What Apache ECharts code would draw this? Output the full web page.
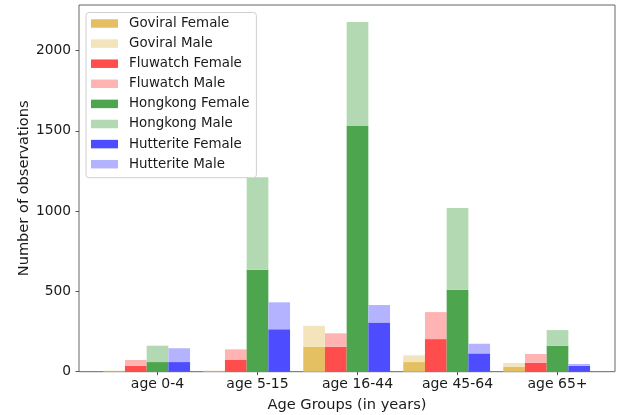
<!DOCTYPE html>
<html>
<head>
<meta charset="utf-8">
<script src="https://cdn.jsdelivr.net/npm/echarts@6/dist/echarts.min.js"></script>
<style>html,body{margin:0;padding:0;background:#fff;}#c{width:625px;height:415px;}</style>
</head>
<body>
<div id="c"></div>
<script>
const categories = ['age 0-4', 'age 5-15', 'age 16-44', 'age 45-64', 'age 65+'];
const yTicks = [0, 500, 1000, 1500, 2000];

const goviralFemale = [4, 4, 156, 60, 31];
const goviralMale = [3, 3, 130, 42, 23];
const fluwatchFemale = [37, 73, 156, 203, 56];
const fluwatchMale = [36, 66, 83, 168, 54];
const hongkongFemale = [60, 635, 1530, 510, 162];
const hongkongMale = [102, 576, 647, 509, 97];
const hutteriteFemale = [60, 264, 307, 114, 37];
const hutteriteMale = [86, 168, 108, 60, 11];

const FONT = 'DejaVu Sans';
const BW = 21.7;

function bar(name, stack, values, color) {
  return {
    name: name,
    type: 'bar',
    stack: stack,
    barWidth: BW,
    barGap: '0%',
    encode: { x: 1, y: 0 },
    data: values.map((v, i) => [v, i]),
    itemStyle: { color: color },
    emphasis: { disabled: true }
  };
}

const series = [
  bar('Goviral Female', 'goviral', goviralFemale, '#e5c063'),
  bar('Goviral Male', 'goviral', goviralMale, '#f4e4bc'),
  bar('Fluwatch Female', 'fluwatch', fluwatchFemale, '#ff4d4d'),
  bar('Fluwatch Male', 'fluwatch', fluwatchMale, '#ffb3b3'),
  bar('Hongkong Female', 'hongkong', hongkongFemale, '#4da64d'),
  bar('Hongkong Male', 'hongkong', hongkongMale, '#b3d9b3'),
  bar('Hutterite Female', 'hutterite', hutteriteFemale, '#4d4dff'),
  bar('Hutterite Male', 'hutterite', hutteriteMale, '#b3b3ff'),
  // empty spacer slot so the Hongkong bar sits on the tick, as in the original layout
  { name: '_spacer', type: 'bar', stack: '_spacer', barWidth: BW, barGap: '0%', encode: { x: 1, y: 0 }, data: [] }
];

const chart = echarts.init(document.getElementById('c'), null, { renderer: 'canvas' });
chart.setOption({
  animation: false,
  backgroundColor: '#fff',
  textStyle: { fontFamily: FONT },
  grid: {
    left: 79, right: 10, top: 5, bottom: 43.3,
    outerBoundsMode: 'none', containLabel: false,
    show: true, borderColor: '#666', borderWidth: 1, backgroundColor: 'transparent'
  },
  legend: {
    data: series.slice(0, 8).map(s => s.name),
    orient: 'vertical',
    left: 86, top: 12.5,
    icon: 'rect',
    itemWidth: 27, itemHeight: 8.5,
    itemGap: 7.1,
    padding: [4.5, 7, 7, 5],
    backgroundColor: 'rgba(255,255,255,0.8)',
    borderColor: '#d0d0d0', borderWidth: 1, borderRadius: 3,
    selectedMode: false,
    textStyle: { fontFamily: FONT, fontSize: 13.4, color: '#1a1a1a', padding: [0, 0, 0, 6] }
  },
  xAxis: {
    type: 'value',
    min: -0.785, max: 4.575,
    name: 'Age Groups (in years)',
    nameLocation: 'middle', nameGap: 26, nameMoveOverlap: false,
    nameTextStyle: { fontFamily: FONT, fontSize: 14.6, color: '#1a1a1a' },
    splitLine: { show: false },
    axisLine: { show: false, onZero: false },
    axisTick: { show: true, length: 3.5, inside: false, lineStyle: { color: '#555' }, customValues: [0, 1, 2, 3, 4] },
    axisLabel: {
      customValues: [0, 1, 2, 3, 4],
      formatter: v => categories[Math.round(v)],
      fontFamily: FONT, fontSize: 14, color: '#1a1a1a', margin: 6
    }
  },
  yAxis: {
    type: 'value',
    min: 0, max: 2283,
    name: 'Number of observations',
    nameLocation: 'middle', nameGap: 47, nameMoveOverlap: false,
    nameTextStyle: { fontFamily: FONT, fontSize: 14.6, color: '#1a1a1a' },
    splitLine: { show: false },
    axisLine: { show: false, onZero: false },
    axisTick: { show: true, length: 3.5, lineStyle: { color: '#555' }, customValues: yTicks },
    axisLabel: { customValues: yTicks, formatter: v => String(v), fontFamily: FONT, fontSize: 13.8, color: '#1a1a1a', margin: 8 }
  },
  series: series
});
</script>
</body>
</html>
